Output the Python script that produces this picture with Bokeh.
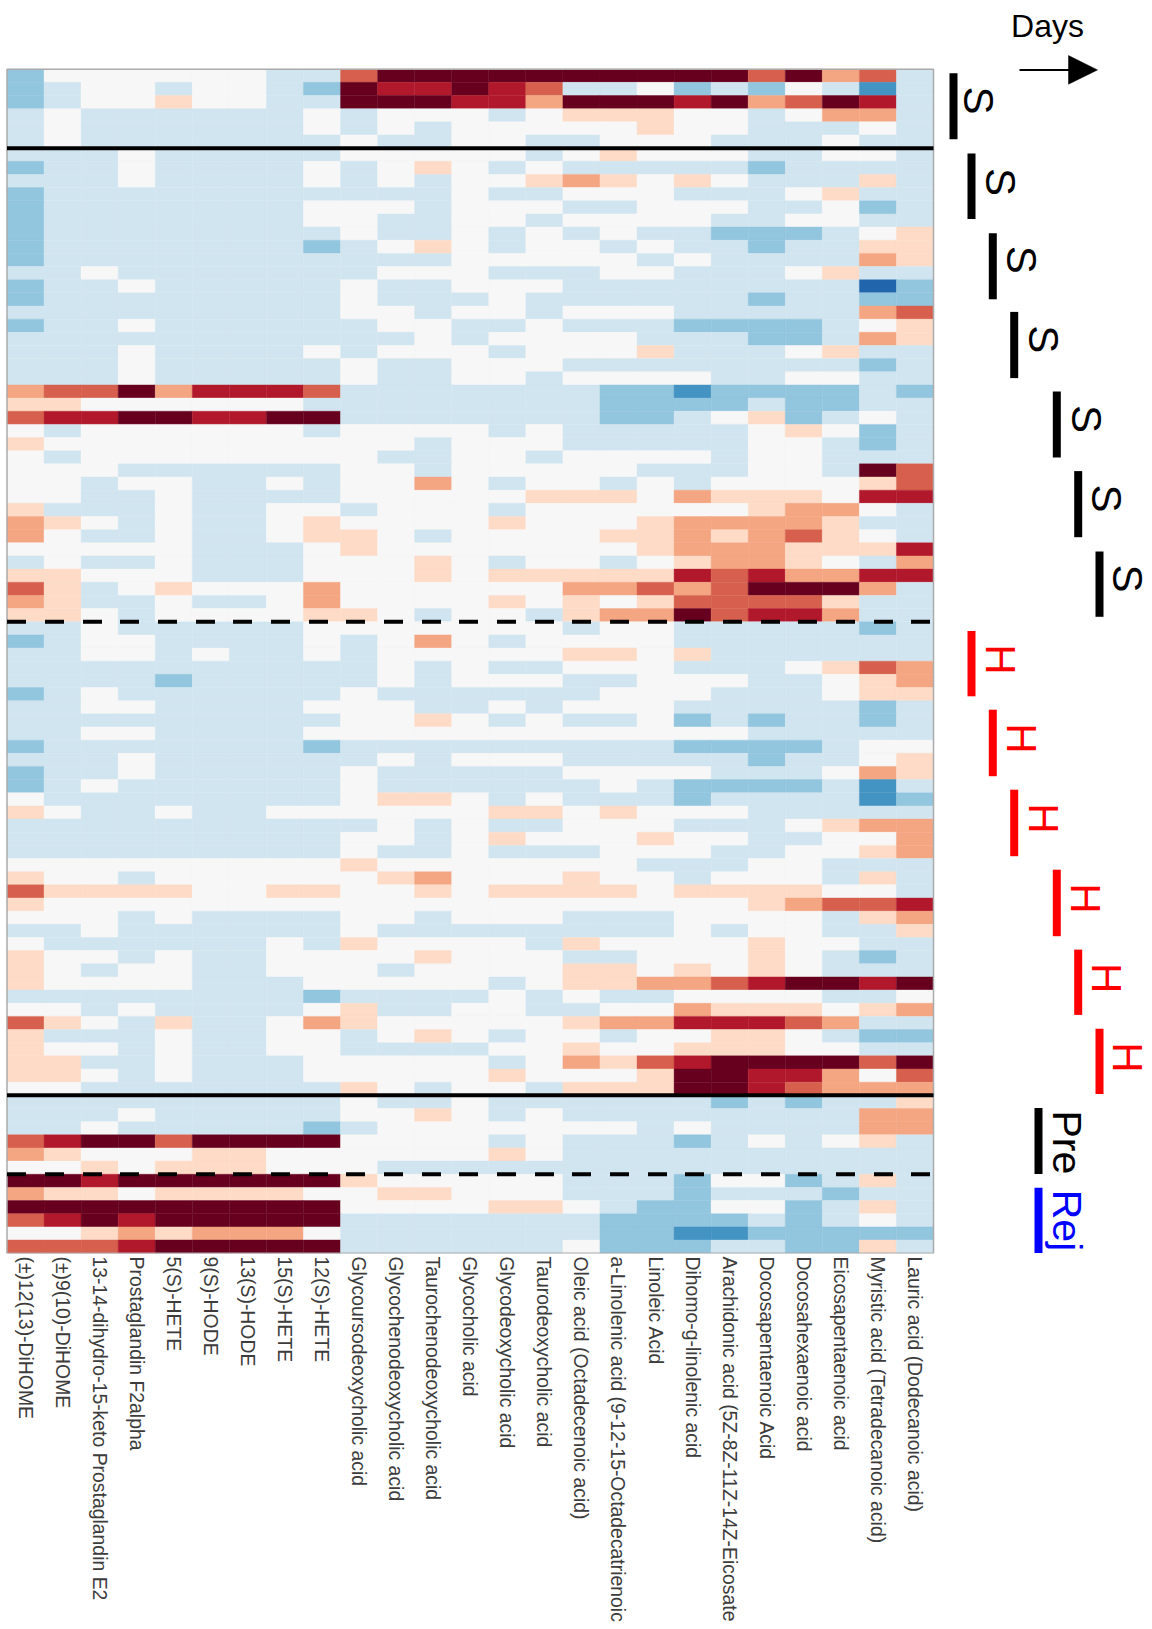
import math
from bokeh.plotting import figure
from bokeh.models import Range1d, FixedTicker, LinearColorMapper, ColumnDataSource
from bokeh.transform import transform
from bokeh.core.properties import value
from bokeh.embed import file_html
from bokeh.resources import INLINE

metabolites = [
    "(±)12(13)-DiHOME", "(±)9(10)-DiHOME", "13-14-dihydro-15-keto Prostaglandin E2",
    "Prostaglandin F2alpha", "5(S)-HETE", "9(S)-HODE", "13(S)-HODE", "15(S)-HETE", "12(S)-HETE",
    "Glycoursodeoxycholic acid", "Glycochenodeoxycholic acid", "Taurochenodeoxycholic acid",
    "Glycocholic acid", "Glycodeoxycholic acid", "Taurodeoxycholic acid",
    "Oleic acid (Octadecenoic acid)", "a-Linolenic acid (9-12-15-Octadecatrienoic", "Linoleic Acid",
    "Dihomo-g-linolenic acid", "Arachidonic acid (5Z-8Z-11Z-14Z-Eicosate", "Docosapentaenoic Acid",
    "Docosahexaenoic acid", "Eicosapentaenoic acid", "Myristic acid (Tetradecanoic acid)",
    "Lauric acid (Dodecanoic acid)",
]

# one letter per cell: a (most negative) ... e (zero) ... j (most positive)
palette = ["#2166ac", "#4393c3", "#92c5de", "#d1e5f0", "#f7f7f7",
           "#fddbc7", "#f4a582", "#d6604d", "#b2182b", "#67001f"]

rows_top = [
    "c eeeeee dd h jjjjjjjjjj h j g h d",
    "c d ee d ee d c j ii j i h dd e c d c e d b d",
    "c d ee f ee dd j jj ii g jjj i j g h j i d",
    "d e dddddd e d eee d e fff ee d e gg d",
    "d e dddddd e d e d e eeee f ee ddd e d",
    "d e ddddddd e dd e e dd eee ddd e dd",
]
rows_s = [
    "ddd e ddddd eeee e d e f eee dd ee d",
    "c dd e dddd e d e f e d e ddddd c dddd",
    "ddd e dddd e d e d e e f g f e f e ddd f d",
    "c ddddddddddd e dd eee ddd e f dd",
    "c ddddddd eee d e ee dd eee dd e c d",
    "c ddddddd ee dd e e d eeee dd ee dd",
    "c dddddddd e dd e d e d e dd ccc d e f",
    "c ddddddd c d e f e d ee d e dd c dd ff",
    "c ddddddddddd e eeee d e dddd g f",
    "dd e ddddddd eee ddd ee ddd e f dd",
    "c dd e ddddd e dd eee dddddddd a c",
    "c dddddddd e ddd e dddddd c dd cc",
    "ddddddddd e e d ee d eee ddddd g h",
    "c dd e dddddd ee dd e ddd cccc d e f",
    "ddddddddddd e d eeee ddd cc d g f",
    "ddd e dddd e d eee d eee f ddd e f dd",
    "ddd e ddddd e dd eee dddddddd c d",
    "ddd e ddddd e dd ee d eeee dd ee dd",
    "g hh j g iii h ddddddd cc b cccc d c",
    "ff eeeeee d ddddddd cccc d cc dd",
    "h ii jj ii jj ddddddd cc d e f c d e d",
    "e d eeeeee d eeee d e ddddd e f e c d",
    "f eeeeeeeeee d e ee ddddd ee d c d",
    "e d eeeeeeee dd e e d eeee d ee ddd",
    "eee dddddd ee d e eeee ddd ee d j h",
    "ee d ee dd e d ee g e d ee d e d eeee f h",
    "ee dd e dddd eeee e fff e g fff e ii",
    "f ddd e dd ee d eee d eeeeee f gg e d",
    "g f e d e dd e f eeee f eee f gggg f dd",
    "g e dd e dd e ff e d e eee ff g f g h f e d",
    "eeeee ddd e f eee eeee f ggg fff i",
    "d e dd e ddd eee f e d ee d e f gg f e d g",
    "ff eee ddd eee f e fffff i h i gg ii",
    "h f d e f eee g eeee ee gg h g h jjj g d",
    "g f dd e dd e g eeee f e f e f hhhh f dd",
    "ff e d eeee ff e d ee d f gg j h ii g dd",
]
rows_h = [
    "dd e ddddd eeeee ee d ee ddddd c d",
    "c d ee dddd e d e g e d eeee ddddddd",
    "dd ee d e dd e d eee ee ff e f dddddd",
    "dddddddddd e d e dd eee ddd e f h g",
    "dddd c ddddd e d e ee dd eee dd e f g",
    "c d e dddddd e dddddd eee ddd e f f",
    "dd ee dddd eee dd e d eee ddddd c d",
    "ddddddddd e e f e d e dd e c d c dd c d",
    "dd ee dddd eeeeeeeeeeee ddddd",
    "c ddddddd c ddddddddd cccc d ee",
    "ddd e dddddd e d eee ddddd c dd e f",
    "c dd e ddddd e ddddd eeee ddd e g f",
    "c d e dddddd e dddddd e d cccc d b d",
    "e dddddddd e ff e d e ddd c dddd b c",
    "f e dd e dd eeeeee ff e f eee ddddd",
    "dddddddddd e d e dd eee ddd e f gg",
    "ddddddddd ee d e f eee f ee dd ee g",
    "ddddddddd e dd e ddd eee dd ee f g",
    "eeeeeeeee f eee eeee ddd ee ddd",
    "f ee d eeeeee f g eee f ee d eee d f d",
    "h ffff ee ff ee f e ffff e ffff ee d",
    "f eeeeeeeeeeeeeeeeeee f g hh i",
    "eee d e dddd ee d e ee ddd eeee d f g",
    "dd e dddddd e dddddddd e d ee dd f",
    "e dddddd e d f eeee d f eeee f ee dd",
    "f ee d e dd eeee f e ee dd eee f e d c d",
    "f e d ee dd eee d ee ee ff e f e f e ddd",
    "f eeee ddd eeeee d e ff gg h i jj i j",
    "dddddddd c ddd d e d e dd eeee dd e",
    "ee d e dddd e f dd e e dd ee g fff e f g",
    "h f e d f dd e g f eee ee f gg iii h g dd",
    "f ddd e dd ee d e f e d ee d ee ff e d cc",
    "f ee d e dd ee dddd ee f ee fff ee dd",
    "ff dd e ddd eeeee d e g f h i jjjj h j",
    "ff e d e ddd eeeee f eee f jj ii g e h",
    "ee ddddddd f e d e e d fff jj i h ggg",
]
rows_pre = [
    "ddddddddd e dd e dddddd c d c dd f",
    "ddd e ddddd ee f e d e dddddddd gg",
    "dd e ddddd c d eeeeeee d e dddd gg",
    "h i jj h jjjj eeee d e ddd c d e d e f d",
    "g f eee ff eeeeee f e dddddddddd",
    "ee f e fff eee ddddddddddddddd",
]
rows_rej = [
    "jj i jjjjjj f eeeee ddd c ee c d f d",
    "g ff e ffff ee ff eee ddd c ddd c dd",
    "jjjjjjjjj eeee ff e d cc ee c d f d",
    "h i j i jjjjj ddddddd cccc d c d e d",
    "ee f g f ggg e ddddddd cc bb ccccc",
    "hhh i jjjjj dddddd e ccc dd cc f d",
]

all_rows = [r.replace(" ", "") for g in (rows_top, rows_s, rows_h, rows_pre, rows_rej) for r in g]

xs, ys, vals = [], [], []
for r, row in enumerate(all_rows):
    for c, ch in enumerate(row[:25].ljust(25, "e")):
        xs.append(c + 0.5)
        ys.append(r + 0.5)
        vals.append("abcdefghij".index(ch))

# page pixel -> data helpers for the annotations beside the heatmap
LEFT, RIGHT, TOP, BOTTOM = 6.5, 933.0, 68.7, 1252.7
COLW = (RIGHT - LEFT) / 25
ROWH = (BOTTOM - TOP) / 90
X = lambda px: (px - LEFT) / COLW
Y = lambda py: (py - TOP) / ROWH

p = figure(width=1152, height=1629, frame_width=1152, frame_height=1253,
           x_range=Range1d(X(0), X(1152)), y_range=Range1d(Y(1253), Y(0)),
           toolbar_location=None, output_backend="svg", y_axis_location=None,
           min_border_left=0, min_border_right=0, min_border_top=0, min_border_bottom=376)
p.outline_line_color = None
p.grid.visible = False

ax = p.xaxis[0]
ax.ticker = FixedTicker(ticks=[i + 0.5 for i in range(25)])
ax.major_label_overrides = {i + 0.5: m for i, m in enumerate(metabolites)}
ax.major_label_orientation = -math.pi / 2
ax.major_label_text_font = "Liberation Sans"
ax.major_label_text_font_size = "19.4px"
ax.major_label_text_color = "#3c3c3c"
ax.major_label_standoff = -3
ax.major_tick_line_color = None
ax.minor_tick_line_color = None
ax.axis_line_color = None

mapper = LinearColorMapper(palette=palette, low=-0.5, high=9.5)
src = ColumnDataSource(dict(x=xs, y=ys, v=vals))
p.rect("x", "y", width=1, height=1, source=src, fill_color=transform("v", mapper),
       line_color=transform("v", mapper), line_width=0.4)

# heatmap frame
p.quad(left=[0], right=[25], top=[0], bottom=[90], fill_color=None, line_color="#ababab", line_width=1.5)

# group separators
p.segment([0, 0], [6, 78], [25, 25], [6, 78], line_color="black", line_width=4)
for row_at in (42, 84):
    p.line([0, 25], [row_at, row_at], line_color="black", line_width=4,
           line_dash="19 19 19 19 19 18")

# day bars and letters
def bar(px, y0, y1, color):
    p.segment([X(px)], [Y(y0)], [X(px)], [Y(y1)], line_color=color, line_width=8)

def rot(px, py, txt, color, size):
    p.text([X(px)], [Y(py)], text=[txt], angle=-math.pi / 2, text_color=color,
           text_font=value("Liberation Sans"), text_font_size=size,
           text_align="center", text_baseline="middle")

s_bars = [(953, 72.7, 138.8), (971, 153, 218.4), (992.3, 232.7, 298.8), (1013.7, 311.4, 377.6),
          (1056.3, 391, 457), (1077.7, 470.6, 536.7), (1099, 551, 616.3)]
s_text = [(978, 100), (1000, 181.6), (1021, 259.2), (1043, 338.8), (1085.7, 418.4), (1106, 498), (1127, 578)]
h_bars = [(971, 630.5, 695.8), (992.3, 709.2, 775.7), (1013.7, 789.2, 855.7), (1056.3, 869.2, 935.7),
          (1077.7, 949.1, 1014.4), (1099, 1028.3, 1093.5)]
h_text = [(999.5, 658.9), (1021, 737.8), (1042.5, 817.8), (1085, 897.8), (1106, 977.7), (1127, 1056.9)]

for b in s_bars:
    bar(*b, "black")
for t in s_text:
    rot(*t, "S", "black", "42px")
for b in h_bars:
    bar(*b, "#ff0000")
for t in h_text:
    rot(*t, "H", "#ff0000", "42px")
bar(1038, 1107.4, 1173.4, "black")
bar(1038, 1187.3, 1252.6, "#0000ff")
rot(1066, 1141.8, "Pre", "black", "41px")
rot(1066, 1220, "Rej", "#0000ff", "41px")

# Days arrow
p.text([X(1047)], [Y(25)], text=["Days"], text_color="black",
       text_font=value("Liberation Sans"), text_font_size="32px",
       text_align="center", text_baseline="middle")
p.segment([X(1019)], [Y(69.4)], [X(1070)], [Y(69.4)], line_color="black", line_width=2)
p.patch([X(1068), X(1097), X(1068)], [Y(55), Y(69.4), Y(83.7)], fill_color="black", line_color="black", line_width=0.5)

open("out.html", "w").write(file_html(p, INLINE))
